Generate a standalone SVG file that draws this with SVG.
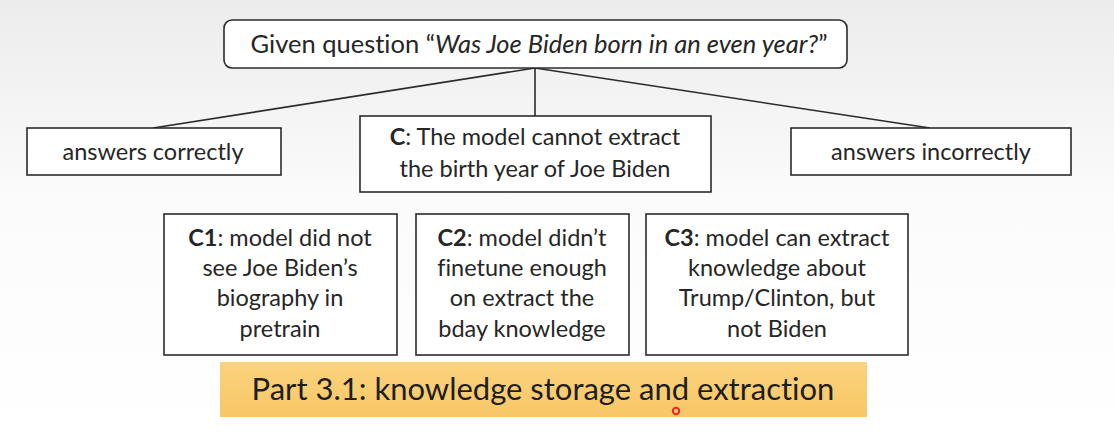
<svg xmlns="http://www.w3.org/2000/svg" width="1114" height="441" viewBox="0 0 1114 441">
<defs>
<linearGradient id="bg" x1="0" y1="0" x2="0" y2="1">
<stop offset="0" stop-color="#ececec"/>
<stop offset="0.45" stop-color="#fbfbfb"/>
<stop offset="1" stop-color="#ffffff"/>
</linearGradient>
<linearGradient id="banner" x1="0" y1="0" x2="0" y2="1">
<stop offset="0" stop-color="#fbd27e"/>
<stop offset="1" stop-color="#f7c765"/>
</linearGradient>
<style>
.box{fill:#ffffff;stroke:#2b2b2b;stroke-width:1.6}
.t{font-family:Lato,"Open Sans","Liberation Sans",sans-serif;font-size:23.5px;fill:#262626;text-anchor:middle;font-variant-ligatures:none;font-feature-settings:"liga" 0,"dlig" 0}
.b{font-weight:bold}
.i{font-style:italic}
.conn line{stroke:#2b2b2b;stroke-width:1.6}
</style>
</defs>
<rect width="1114" height="441" fill="url(#bg)"/>
<g class="conn" id="connectors">
<line x1="535" y1="68" x2="153" y2="128"/>
<line x1="535" y1="68" x2="535" y2="116"/>
<line x1="535" y1="68" x2="930" y2="128"/>
</g>
<g id="question">
<rect class="box" x="224" y="20" width="623" height="48" rx="8"/>
<text class="t" x="539" y="53" style="font-size:25.5px">Given question “<tspan class="i">Was Joe Biden born in an even year?</tspan>”</text>
</g>
<g id="correct">
<rect class="box" x="27" y="128" width="254" height="47"/>
<text class="t" x="153" y="160">answers correctly</text>
</g>
<g id="c">
<rect class="box" x="360" y="116" width="351" height="76"/>
<text class="t" x="535" y="145"><tspan class="b">C</tspan>: The model cannot extract</text>
<text class="t" x="535" y="177">the birth year of Joe Biden</text>
</g>
<g id="incorrect">
<rect class="box" x="791" y="128" width="280" height="47"/>
<text class="t" x="931" y="160">answers incorrectly</text>
</g>
<g id="c1">
<rect class="box" x="164" y="214" width="233" height="141"/>
<text class="t" x="280" y="246"><tspan class="b">C1</tspan>: model did not</text>
<text class="t" x="280" y="276">see Joe Biden’s</text>
<text class="t" x="280" y="306">biography in</text>
<text class="t" x="280" y="337">pretrain</text>
</g>
<g id="c2">
<rect class="box" x="416" y="214" width="213" height="141"/>
<text class="t" x="522" y="246"><tspan class="b">C2</tspan>: model didn’t</text>
<text class="t" x="522" y="276">finetune enough</text>
<text class="t" x="522" y="306">on extract the</text>
<text class="t" x="522" y="337">bday knowledge</text>
</g>
<g id="c3">
<rect class="box" x="646" y="214" width="262" height="141"/>
<text class="t" x="777" y="246"><tspan class="b">C3</tspan>: model can extract</text>
<text class="t" x="777" y="276">knowledge about</text>
<text class="t" x="777" y="306">Trump/Clinton, but</text>
<text class="t" x="777" y="337">not Biden</text>
</g>
<g id="part">
<rect x="220" y="362" width="647" height="55" fill="url(#banner)"/>
<text class="t" x="543" y="400" style="font-size:31px;fill:#1e1e1e">Part 3.1: knowledge storage and extraction</text>
</g>
<circle cx="676" cy="411" r="3.2" fill="none" stroke="#e8282a" stroke-width="2"/>
</svg>
